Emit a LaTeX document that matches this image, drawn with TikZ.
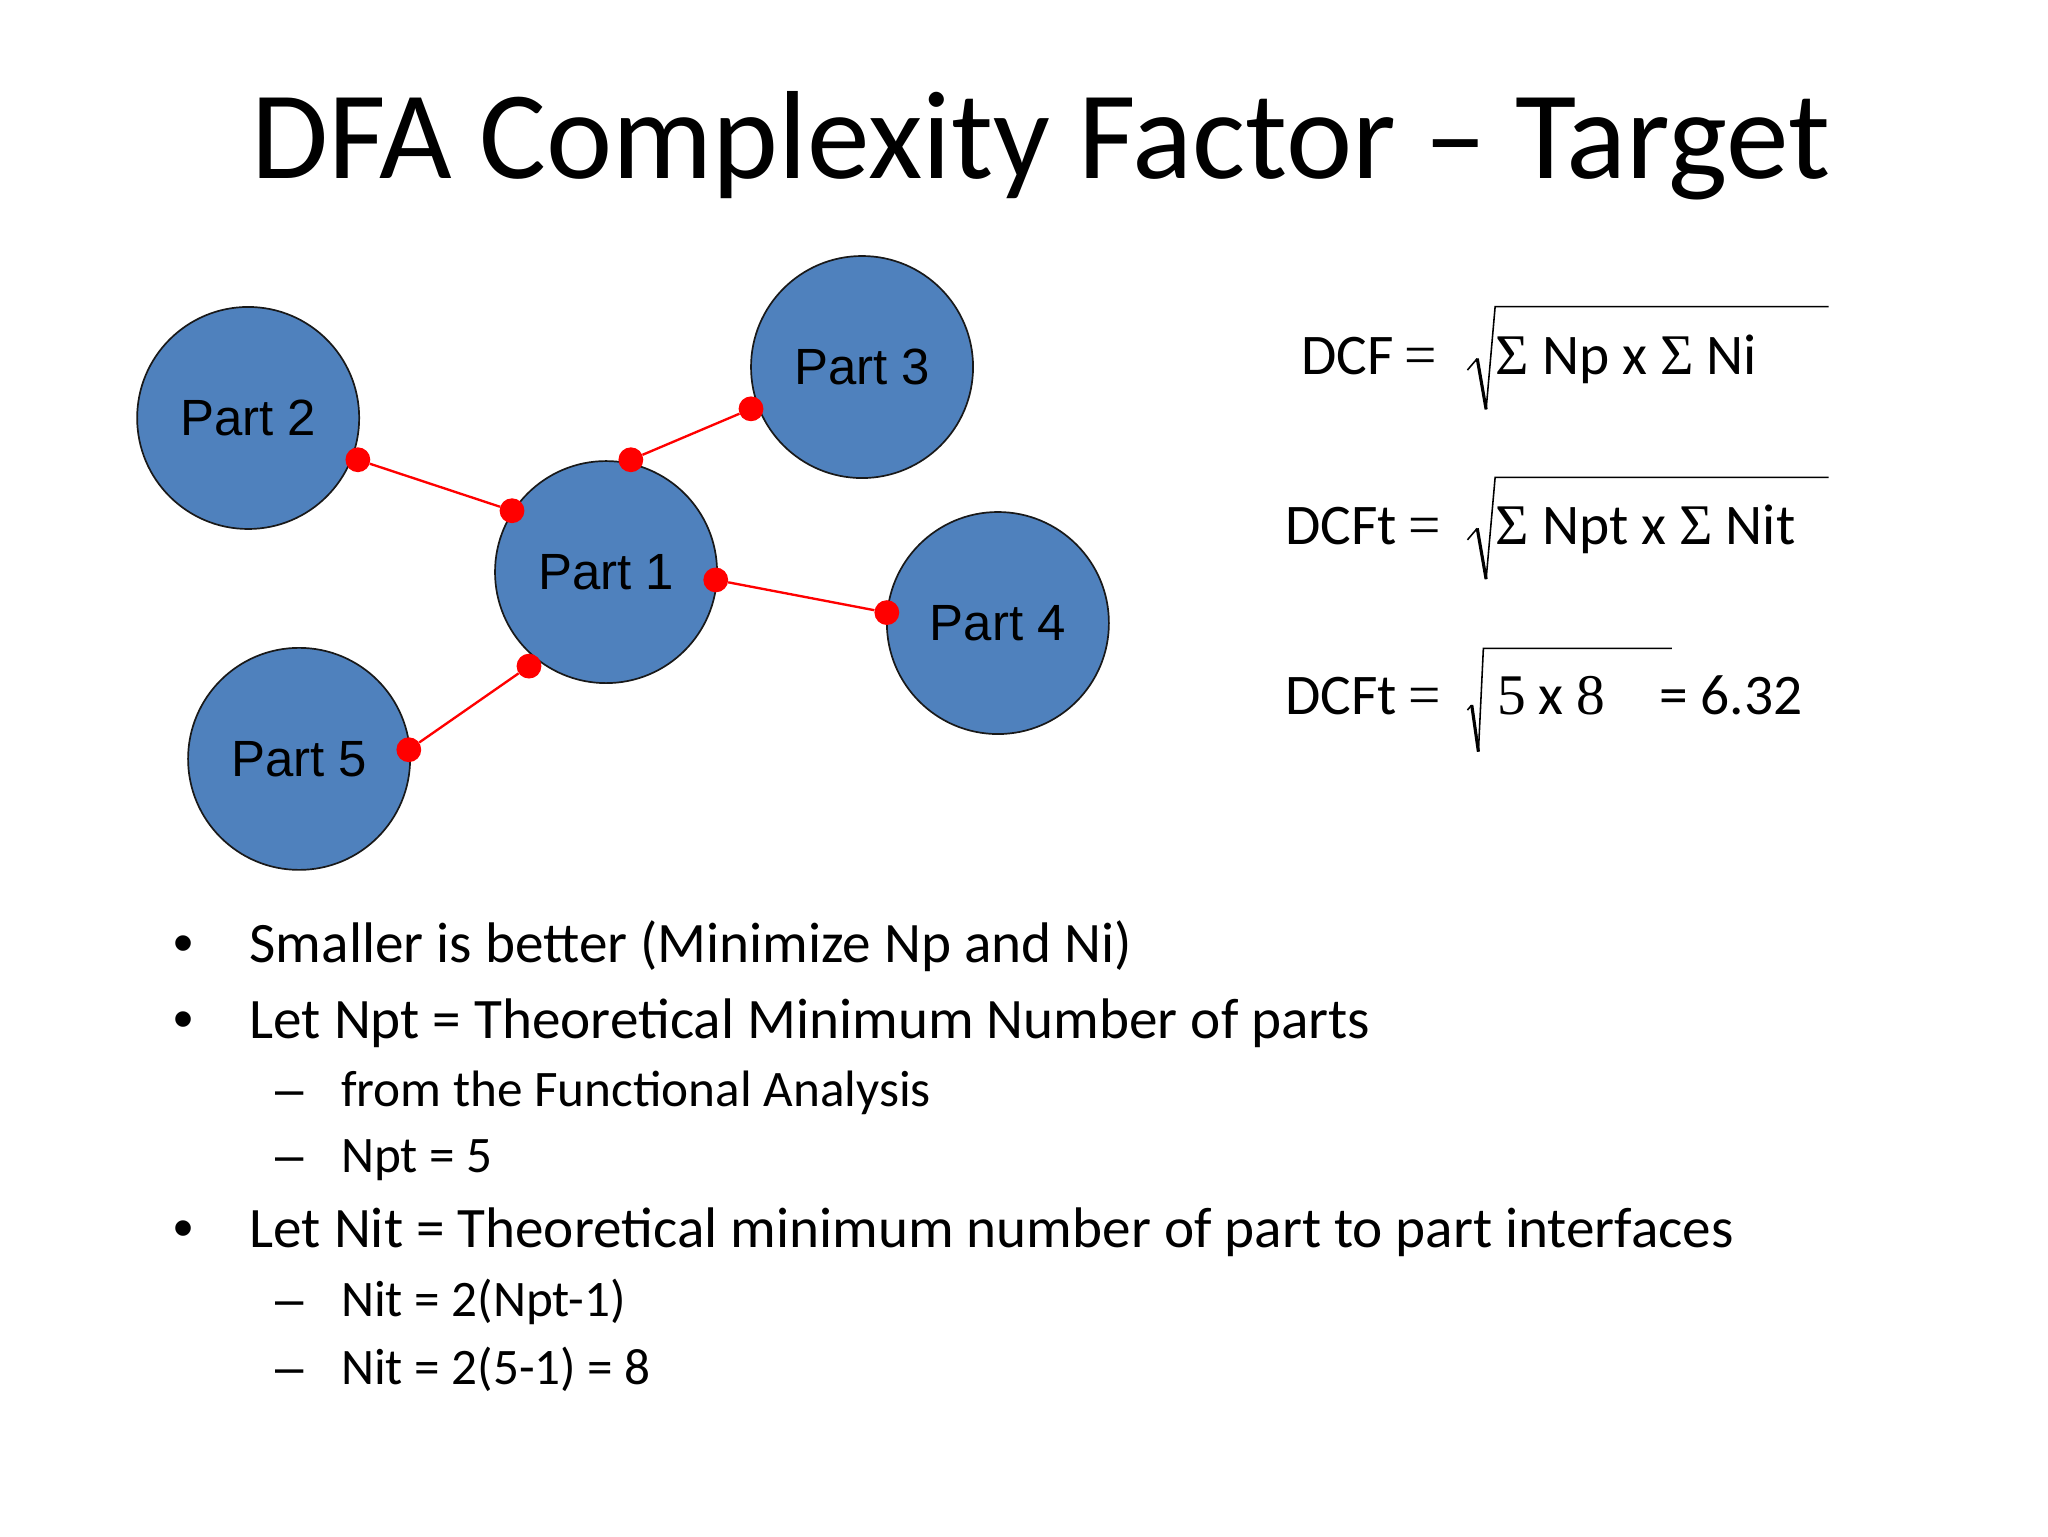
\documentclass[tikz,border=0pt]{standalone}
\usepackage{fontspec}
\setmainfont{Carlito}
\newfontfamily\arialf{Liberation Sans}
\newfontfamily\serff{Liberation Serif}
\definecolor{partblue}{RGB}{79,129,189}
\begin{document}
\begin{tikzpicture}[x=1pt,y=-1pt,
  part/.style={circle, draw=black!90, line width=1.3pt, fill=partblue,
    minimum size=170pt, inner sep=0pt, font=\arialf\fontsize{39}{44}\selectfont},
  joint/.style={circle, fill=red, minimum size=19pt, inner sep=0pt},
  link/.style={draw=red, line width=1.8pt},
  lone/.style={anchor=base west, inner sep=0pt, font=\fontsize{43.8}{50}\selectfont},
  ltwo/.style={anchor=base west, inner sep=0pt, font=\fontsize{39.2}{46}\selectfont},
  bulletmark/.style={anchor=base west, inner sep=0pt, font=\arialf\fontsize{43.8}{50}\selectfont},
  dashmark/.style={anchor=base west, inner sep=0pt, font=\arialf\fontsize{39}{46}\selectfont},
  eqtext/.style={anchor=base west, inner sep=0pt, font=\fontsize{44}{50}\selectfont},
  radthin/.style={line width=1.2pt, line join=miter},
  radthick/.style={line width=2.4pt, line cap=butt}
]
\useasboundingbox (0,0) rectangle (1568,1176);
\fill[white] (0,0) rectangle (1568,1176);

% title
\node[anchor=base, inner sep=0pt, font=\fontsize{96}{112}\selectfont] (title) at (797,137)
  {DFA Complexity Factor – Target};

% parts
\node[part] (p1) at (464,438) {Part 1};
\node[part] (p2) at (190,320) {Part 2};
\node[part] (p3) at (660,281) {Part 3};
\node[part] (p4) at (764,477) {Part 4};
\node[part] (p5) at (229,581) {Part 5};

% joints
\node[joint] (j21) at (274,352) {};
\node[joint] (j12) at (392,391) {};
\node[joint] (j13) at (483,352) {};
\node[joint] (j31) at (575,313) {};
\node[joint] (j14) at (548,444) {};
\node[joint] (j41) at (679,469) {};
\node[joint] (j15) at (405,510) {};
\node[joint] (j51) at (313,574) {};

\draw[link] (j21) -- (j12);
\draw[link] (j13) -- (j31);
\draw[link] (j14) -- (j41);
\draw[link] (j15) -- (j51);

% formulas
\node[eqtext] (dcf1) at (996,287) {DCF};
\node[eqtext] (eqa) at (1075,287) {\serff =};
\node[eqtext] (in1) at (1145,287) {{\serff Σ} Np x {\serff Σ} Ni};
\draw[radthin] (1123.5,283.3) -- (1131,274.5);
\draw[radthick] (1131,274.5) -- (1137.8,313.4);
\draw[radthin] (1137.8,313.4) -- (1144.7,234.8) -- (1400,234.8);

\node[eqtext] (dcf2) at (984,417) {DCFt};
\node[eqtext] (eqb) at (1078,417) {\serff =};
\node[eqtext] (in2) at (1145,417) {{\serff Σ} Npt x {\serff Σ} Nit};
\draw[radthin] (1123.5,413.3) -- (1131,404.5);
\draw[radthick] (1131,404.5) -- (1137.8,443.4);
\draw[radthin] (1137.8,443.4) -- (1144.7,365.5) -- (1400,365.5);

\node[eqtext] (dcf3) at (984,547) {DCFt};
\node[eqtext] (eqc) at (1078,547) {\serff =};
\node[eqtext] (in3) at (1146,547) {{\serff 5} x {\serff 8}};
\node[eqtext] (res) at (1270,547) {= 6.32};
\draw[radthin] (1123.5,543.6) -- (1126.8,539.8);
\draw[radthick] (1126.8,539.8) -- (1131.9,575.5);
\draw[radthin] (1131.9,575.5) -- (1135.7,496.4) -- (1280,496.4);

% bullets
\node[bulletmark] (d1) at (133,737) {•};
\node[lone] (t1) at (191,737) {Smaller is better (Minimize Np and Ni)};
\node[bulletmark] (d2) at (133,795) {•};
\node[lone] (t2) at (191,795) {Let Npt = Theoretical Minimum Number of parts};
\node[dashmark] (e1) at (211,847) {–};
\node[ltwo] (s1) at (261,847) {from the Functional Analysis};
\node[dashmark] (e2) at (211,898) {–};
\node[ltwo] (s2) at (261,898) {Npt = 5};
\node[bulletmark] (d3) at (133,955) {•};
\node[lone] (t3) at (191,955) {Let Nit = Theoretical minimum number of part to part interfaces};
\node[dashmark] (e3) at (211,1008) {–};
\node[ltwo] (s3) at (261,1008) {Nit = 2(Npt-1)};
\node[dashmark] (e4) at (211,1060) {–};
\node[ltwo] (s4) at (261,1060) {Nit = 2(5-1) = 8};
\end{tikzpicture}
\end{document}
